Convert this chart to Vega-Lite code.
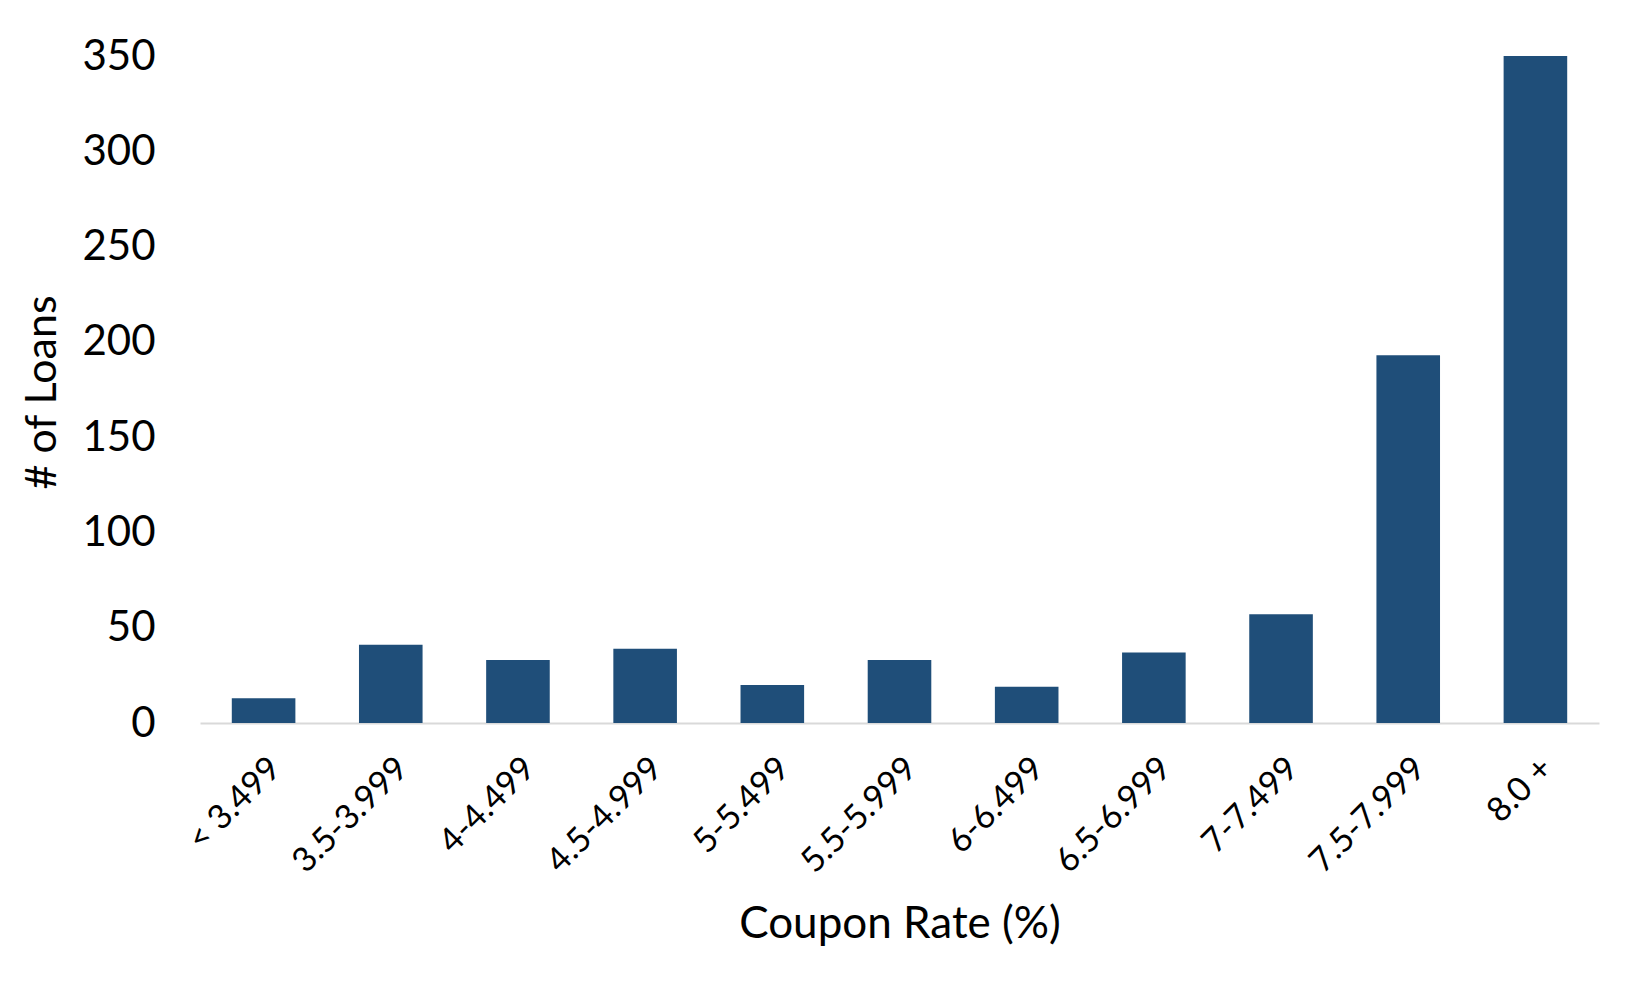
{
  "$schema": "https://vega.github.io/schema/vega-lite/v6.json",
  "autosize": {"type": "none"},
  "width": 1399,
  "height": 667,
  "padding": {"left": 200, "top": 56, "right": 51, "bottom": 267},
  "background": "white",
  "config": {
    "font": "Lato",
    "view": {"stroke": null}
  },
  "data": {
    "values": [
      {"bucket": "< 3.499", "loans": 13},
      {"bucket": "3.5-3.999", "loans": 41},
      {"bucket": "4-4.499", "loans": 33},
      {"bucket": "4.5-4.999", "loans": 39},
      {"bucket": "5-5.499", "loans": 20},
      {"bucket": "5.5-5.999", "loans": 33},
      {"bucket": "6-6.499", "loans": 19},
      {"bucket": "6.5-6.999", "loans": 37},
      {"bucket": "7-7.499", "loans": 57},
      {"bucket": "7.5-7.999", "loans": 193},
      {"bucket": "8.0 +", "loans": 350}
    ]
  },
  "mark": {"type": "bar", "color": "#1f4e79"},
  "encoding": {
    "x": {
      "field": "bucket",
      "type": "nominal",
      "sort": null,
      "scale": {"paddingInner": 0.5, "paddingOuter": 0.25},
      "axis": {
        "title": "Coupon Rate (%)",
        "titleFontSize": 44,
        "titleFontWeight": "normal",
        "titleColor": "black",
        "titleBaseline": "middle",
        "titleY": 201,
        "labelAngle": -45,
        "labelFontSize": 34,
        "labelColor": "black",
        "labelPadding": 28,
        "ticks": false,
        "domainColor": "#d9d9d9",
        "domainWidth": 2
      }
    },
    "y": {
      "field": "loans",
      "type": "quantitative",
      "scale": {"domain": [0, 350], "nice": false},
      "axis": {
        "title": "# of Loans",
        "titleFontSize": 43,
        "titleFontWeight": "normal",
        "titleColor": "black",
        "titleAngle": -90,
        "titleAlign": "center",
        "titleBaseline": "middle",
        "titleX": -158,
        "titleY": 336,
        "values": [0, 50, 100, 150, 200, 250, 300, 350],
        "labelFontSize": 42,
        "labelColor": "black",
        "labelPadding": 45,
        "ticks": false,
        "domain": false,
        "grid": false
      }
    }
  }
}
